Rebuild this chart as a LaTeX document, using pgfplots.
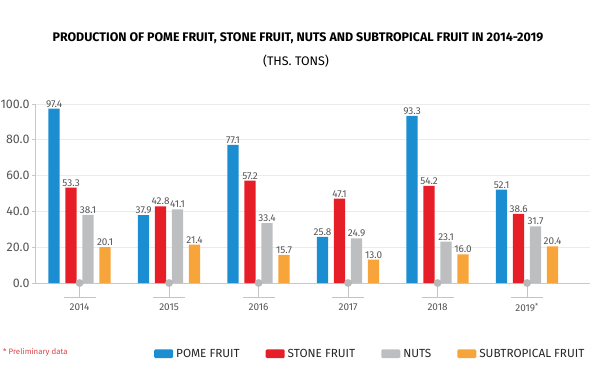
\documentclass[border=0pt]{standalone}
\usepackage{fontspec}
\setmainfont{Fira Sans}
\usepackage{pgfplots}
\pgfplotsset{compat=1.18}
\definecolor{cblue}{HTML}{1B8ED1}
\definecolor{cred}{HTML}{E61E28}
\definecolor{cgray}{HTML}{BDBEC0}
\definecolor{corange}{HTML}{F7A43A}
\definecolor{gridgray}{HTML}{EBEBEB}
\definecolor{axisgray}{HTML}{C8C8C8}
\definecolor{markgray}{HTML}{B8B8B8}
\definecolor{linegray}{HTML}{C4C4C4}
\definecolor{labelgray}{HTML}{555555}
\definecolor{notered}{HTML}{D9434B}
\pgfdeclareplotmark{yearmark}{%
  \pgfsetlinewidth{1bp}%
  \pgfpathmoveto{\pgfpoint{0bp}{0bp}}\pgfpathlineto{\pgfpoint{0bp}{-14bp}}%
  \pgfpathmoveto{\pgfpoint{-16bp}{-14bp}}\pgfpathlineto{\pgfpoint{16bp}{-14bp}}%
  \pgfusepathqstroke
}
\pgfplotstableread{
x pome stone nuts sub
0 97.4 53.3 38.1 20.1
1 37.9 42.8 41.1 21.4
2 77.1 57.2 33.4 15.7
3 25.8 47.1 24.9 13.0
4 93.3 54.2 23.1 16.0
5 52.1 38.6 31.7 20.4
}\datatable
\begin{document}
\begin{tikzpicture}
\useasboundingbox (0,0) rectangle (600bp,374bp);
\node[font=\fontsize{12.5}{14}\selectfont\bfseries, text=black] at (298bp,335.5bp) {PRODUCTION OF POME FRUIT, STONE FRUIT, NUTS AND SUBTROPICAL FRUIT IN 2014-2019};
\node[font=\fontsize{12.5}{14}\selectfont, text=black] at (296bp,312.5bp) {(THS. TONS)};
\node[font=\fontsize{7.9}{9}\selectfont, text=notered, anchor=west, inner sep=0] at (3bp,21.3bp) {* Preliminary data};
\begin{axis}[
  at={(35bp,91bp)}, anchor=south west,
  x=89.5bp, y=1.79bp,
  xmin=-0.498, xmax=5.70, ymin=0, ymax=100,
  ybar=5.7bp, bar width=11.3bp,
  axis x line*=bottom, axis y line*=left,
  axis line style={draw=axisgray, line width=0.8bp},
  ymajorgrids, grid style={draw=gridgray, line width=0.6bp},
  ytick={0,20,40,60,80,100},
  xtick={0,1,2,3,4,5},
  xticklabels={2014,2015,2016,2017,2018,2019\textsuperscript{*}},
  xtick style={draw=none},
  ytick style={draw=axisgray, line width=0.8bp},
  tick align=outside, major tick length=3bp,
  xticklabel style={font=\fontsize{10}{12}\selectfont, text=labelgray, anchor=center, yshift=-21.5bp},
  yticklabel style={font=\fontsize{12.5}{14}\selectfont, text=labelgray, xshift=1bp},
  /pgf/number format/.cd, fixed, fixed zerofill, precision=1, assume math mode=true, /pgfplots/.cd,
  clip=false,
  nodes near coords,
  every node near coord/.append style={font=\fontsize{10}{11}\selectfont, text=labelgray, inner sep=1.2bp},
  legend columns=4,
  legend style={draw=none, fill=none, at={(0.2145,-0.395)}, anchor=west, inner sep=0pt,
    font=\fontsize{11.8}{14}\selectfont, text=black!85,
    nodes={inner xsep=3bp},
    /tikz/every even column/.append style={column sep=23bp},
    /tikz/every odd column/.append style={column sep=0bp}},
  legend image code/.code={\fill[#1, draw=none, rounded corners=1.2bp] (0bp,-4.3bp) rectangle (19bp,4.3bp);},
]
\addplot[fill=cblue, draw=none] table[x=x, y=pome] {\datatable};
\addplot[fill=cred, draw=none] table[x=x, y=stone] {\datatable};
\addplot[fill=cgray, draw=none] table[x=x, y=nuts] {\datatable};
\addplot[fill=corange, draw=none] table[x=x, y=sub] {\datatable};
\legend{POME FRUIT, STONE FRUIT, NUTS, SUBTROPICAL FRUIT}
\addplot[sharp plot, only marks, nodes near coords=\empty, mark=yearmark, mark options={draw=linegray, solid}, forget plot] coordinates {(0,0) (1,0) (2,0) (3,0) (4,0) (5,0)};
\addplot[sharp plot, only marks, nodes near coords=\empty, mark=*, mark size=3.8bp, mark options={draw=markgray, fill=markgray, line width=0.1bp}, forget plot] coordinates {(0,0) (1,0) (2,0) (3,0) (4,0) (5,0)};
\end{axis}
\end{tikzpicture}
\end{document}
